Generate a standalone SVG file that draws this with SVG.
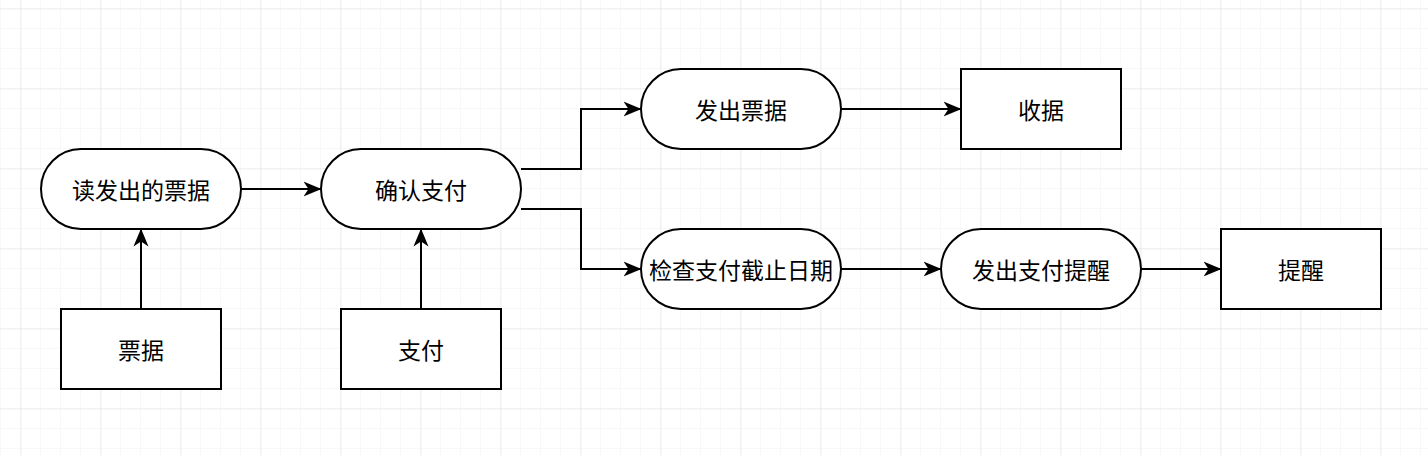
<svg xmlns="http://www.w3.org/2000/svg" width="1428" height="456" viewBox="0 0 1428 456">
<defs>
<pattern id="minor" x="0" y="8" width="20" height="20" patternUnits="userSpaceOnUse">
<path d="M0 0H20M0 0V20" fill="none" stroke="#f2f2f2" stroke-width="1"/>
</pattern>
<pattern id="major" x="20.5" y="8.5" width="80" height="80" patternUnits="userSpaceOnUse">
<path d="M0 0H80M0 0V80" fill="none" stroke="#e0e0e0" stroke-width="1"/>
</pattern>
<marker id="arr" viewBox="0 0 18 16" refX="17.5" refY="8" markerWidth="18" markerHeight="16" markerUnits="userSpaceOnUse" orient="auto">
<path d="M0 0.5L18 8L0 15.5L5 8Z" fill="#000"/>
</marker>
</defs>
<style>
.n{fill:#fff;stroke:#000;stroke-width:2}
.t{font-family:"Noto Sans CJK SC","Liberation Sans",sans-serif;font-size:23px;fill:#000;text-anchor:middle;dominant-baseline:central}
.e{fill:none;stroke:#000;stroke-width:2;marker-end:url(#arr)}
</style>
<rect width="1428" height="456" fill="#fff"/>
<rect width="1428" height="456" fill="url(#minor)"/>
<rect width="1428" height="456" fill="url(#major)"/>
<g id="connectors">
<path class="e" d="M241 189H321"/>
<path class="e" d="M141 309V229"/>
<path class="e" d="M421 309V229"/>
<path class="e" d="M521 169H581V109H641"/>
<path class="e" d="M521 209H581V269H641"/>
<path class="e" d="M841 109H961"/>
<path class="e" d="M841 269H941"/>
<path class="e" d="M1141 269H1221"/>
</g>
<g id="read"><rect class="n" x="41" y="149" width="200" height="80" rx="40"/><text class="t" x="141" y="189">读发出的票据</text></g>
<g id="confirm"><rect class="n" x="321" y="149" width="200" height="80" rx="40"/><text class="t" x="421" y="189">确认支付</text></g>
<g id="issue"><rect class="n" x="641" y="69" width="200" height="80" rx="40"/><text class="t" x="741" y="109">发出票据</text></g>
<g id="receipt"><rect class="n" x="961" y="69" width="160" height="80"/><text class="t" x="1041" y="109">收据</text></g>
<g id="check"><rect class="n" x="641" y="229" width="200" height="80" rx="40"/><text class="t" x="741" y="269">检查支付截止日期</text></g>
<g id="remind"><rect class="n" x="941" y="229" width="200" height="80" rx="40"/><text class="t" x="1041" y="269">发出支付提醒</text></g>
<g id="reminder"><rect class="n" x="1221" y="229" width="160" height="80"/><text class="t" x="1301" y="269">提醒</text></g>
<g id="ticket"><rect class="n" x="61" y="309" width="160" height="80"/><text class="t" x="141" y="349">票据</text></g>
<g id="payment"><rect class="n" x="341" y="309" width="160" height="80"/><text class="t" x="421" y="349">支付</text></g>
</svg>
